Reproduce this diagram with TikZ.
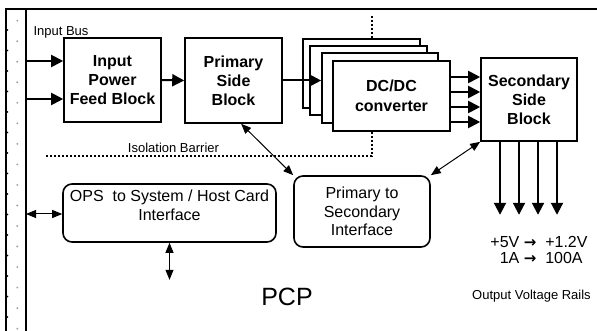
\documentclass[tikz,border=0pt]{standalone}
\usepackage{fontspec}
\setmainfont{Liberation Sans}
\newfontfamily\arrowfont{DejaVu Sans}
\usetikzlibrary{arrows.meta}
\tikzset{
    myblock/.style = {rectangle, line width=1.6pt, draw=black, align=center, fill=white, font=\fontsize{16}{19}\selectfont\bfseries, inner sep=0pt},
    myround/.style = {rectangle, rounded corners=9pt, line width=1.6pt, draw=black, align=center, fill=white, font=\fontsize{16}{18.5}\selectfont, inner sep=0pt},
    mylabel/.style = {inner sep=0pt, align=center, font=\fontsize{13}{15}\selectfont},
    myrails/.style = {inner sep=0pt, align=center, font=\fontsize{16}{16.5}\selectfont},
    edgep/.style = {-{Triangle[length=12pt,width=12pt]}, line width=2pt, black},
    edgeb/.style = {{Triangle[length=10pt,width=8pt]}-{Triangle[length=10pt,width=8pt]}, line width=1pt, black},
    barrier/.style = {line width=2pt, dash pattern=on 2pt off 2pt}, % isolation
    frame/.style = {line width=1.8pt, black},
}
\newcommand{\To}{{\arrowfont\bfseries\fontsize{15}{15}\selectfont →}}

\begin{document}
\begin{tikzpicture}[x=1pt, y=-1pt]
\useasboundingbox (0,0) rectangle (597,331);
% card edge with connector
\draw[frame] (597,9) -- (6,9) -- (6,331);
\draw[line width=1.5pt] (26,9) -- (26,331);
\foreach \i in {0,...,15} \fill[gray!70] (17.3, 20.7+20.53*\i) circle (1.1);
\foreach \i in {0,...,14} \fill[black] (7.4, 30+20.5*\i) circle (0.9);
% isolation barrier
\draw[barrier] (372,16) -- (372,156) -- (45,156);
\node[mylabel] at (173.5, 148) (iso) {Isolation Barrier};
\node[mylabel] at (61, 32) (bus) {Input Bus};
% blocks
\node[myblock, minimum width=97, minimum height=84] at (112.5, 80) (inp) {Input\\Power\\Feed Block};
\node[myblock, minimum width=97, minimum height=85] at (233.5, 80.5) (prim) {Primary\\Side\\Block};
\node[myblock, minimum width=117, minimum height=69] at (361.5, 73.5) (dc1) {};
\node[myblock, minimum width=117, minimum height=69] at (368.5, 80.5) (dc2) {};
\node[myblock, minimum width=116, minimum height=70] at (380, 88) (dc3) {};
\node[myblock, minimum width=117, minimum height=70, font=\fontsize{16}{20}\selectfont\bfseries] at (391.5, 96) (dc4) {DC/DC\\converter};
\node[myblock, minimum width=96, minimum height=83] at (529, 99.5) (sec) {Secondary\\Side\\Block};
\node[myround, minimum width=136, minimum height=71] at (362, 211.5) (p2s) {Primary to\\Secondary\\Interface};
\node[myround, minimum width=213, minimum height=58] at (169.5, 213) (ops) {OPS\ \ to System / Host Card\\Interface\\[-8pt]\strut};
% power path
\coordinate (bus1) at (26, 61);
\coordinate (bus2) at (26, 99);
\draw[edgep] (bus1) -- (inp.west |- bus1);
\draw[edgep] (bus2) -- (inp.west |- bus2);
\draw[edgep] (inp.east) -- (prim.west);
\draw[edgep] (prim.east) -- (dc3.west |- prim.east);
\foreach \y in {77, 92, 107, 122}
    \draw[edgep] (dc4.east |- 0,\y) -- (sec.west |- 0,\y);
\foreach \x in {500, 519, 538, 557}
    \draw[edgep] (sec.south -| \x,0) -- ++(0,73);
% control links
\draw[edgeb] (prim.-80) -- (p2s.north west);
\draw[edgeb] (sec.south west) -- (p2s.north east);
\coordinate (host) at (26, 214);
\draw[edgeb] (host) -- (ops.west |- host);
\draw[edgeb] (ops.south) -- ++(0,37);
% labels
\node[myrails] at (539, 250) (rails) {+5V \To\ \ +1.2V\\\ 1A \To\ \ 100A};
\node[mylabel] at (531.5, 296) (out) {Output Voltage Rails};
\node[inner sep=0pt, font=\fontsize{25}{30}\selectfont] at (287, 297) (pcp) {PCP};
\end{tikzpicture}
\end{document}
